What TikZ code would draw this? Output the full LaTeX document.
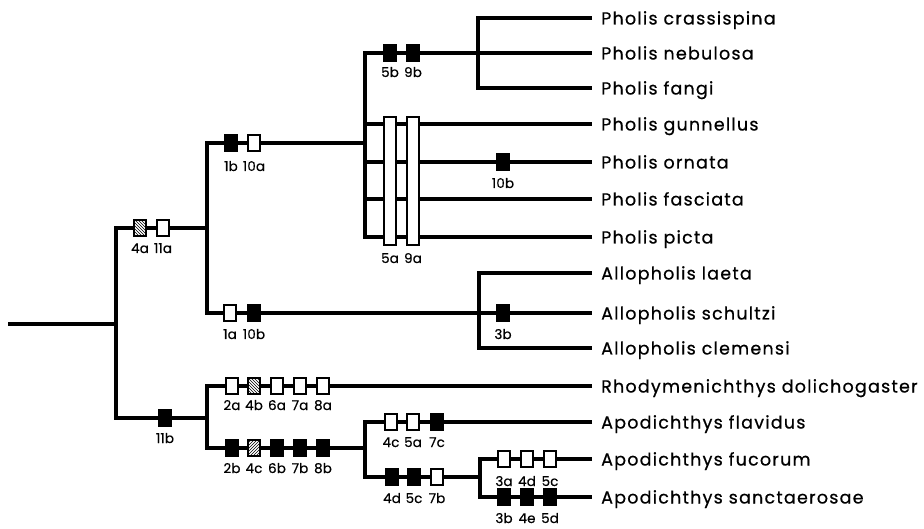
\documentclass[tikz,border=0pt]{standalone}
\usepackage{fontspec}
\setmainfont{Poppins}
\newfontfamily\spfont[LetterSpace=7,FakeBold=0.6]{Poppins}
\newfontfamily\lbfont[LetterSpace=1,FakeBold=0.4]{Poppins}
\usetikzlibrary{patterns}
\newcommand\mk[6]{%
  \node[#4] (#1) at (#2,#3) {};
  \node[lbl] (#1l) at (#2,#3+#6) {#5};}
\begin{document}
\begin{tikzpicture}[x=1pt,y=-1pt,
  br/.style={line width=3.2pt,line join=miter},
  mkw/.style={draw,fill=white,line width=1.8pt,minimum width=12pt,minimum height=15.5pt,inner sep=0pt},
  mkb/.style={mkw,fill=black},
  mkh/.style={mkw,postaction={pattern=north west lines}},
  mkf/.style={mkw,postaction={pattern=north east lines}},
  barw/.style={draw,fill=white,line width=1.8pt,minimum width=12pt,minimum height=128pt,inner sep=0pt},
  lbl/.style={font=\lbfont\fontsize{13.5}{13.5}\selectfont,inner sep=0pt,anchor=base},
  sp/.style={font=\spfont\fontsize{17.5}{20}\selectfont,inner sep=0pt,anchor=base west}]
\useasboundingbox (0,0) rectangle (924,529);
% tips
\coordinate (t1) at (592,18);
\coordinate (t2) at (592,53);
\coordinate (t3) at (592,88);
\coordinate (t4) at (592,124);
\coordinate (t5) at (592,162);
\coordinate (t6) at (592,199);
\coordinate (t7) at (592,237);
\coordinate (t8) at (592,273);
\coordinate (t9) at (592,313);
\coordinate (t10) at (592,348);
\coordinate (t11) at (592,386);
\coordinate (t12) at (592,422);
\coordinate (t13) at (592,459);
\coordinate (t14) at (592,497);
% internal junctions
\coordinate (r0) at (8,324);
\coordinate (r1) at (116,324);
\coordinate (u0) at (116,228);
\coordinate (u1) at (207,228);
\coordinate (l0) at (116,418);
\coordinate (l1) at (207,418);
\coordinate (p0) at (207,143);
\coordinate (p1) at (365,143);
\coordinate (a0) at (207,313);
\coordinate (ph1) at (365,53);
\coordinate (ph4) at (365,124);
\coordinate (ph5) at (365,162);
\coordinate (ph6) at (365,199);
\coordinate (ph7) at (365,237);
\coordinate (k1) at (478,18);
\coordinate (k3) at (478,88);
\coordinate (al1) at (479,273);
\coordinate (al3) at (479,348);
\coordinate (b1) at (207,386);
\coordinate (b2) at (207,448);
\coordinate (q0) at (365,448);
\coordinate (q1) at (365,422);
\coordinate (q2) at (365,477);
\coordinate (s0) at (480,477);
\coordinate (s1) at (480,459);
\coordinate (s2) at (480,497);
% branches
\draw[br] (r0) -- (r1);
\draw[br] (u1) -- (u0) -- (l0) -- (l1);
\draw[br] (p1) -- (p0) -- (a0) -- (t9);
\draw[br] (t7) -- (ph7) -- (ph1) -- (t2);
\draw[br] (ph4) -- (t4);
\draw[br] (ph5) -- (t5);
\draw[br] (ph6) -- (t6);
\draw[br] (t1) -- (k1) -- (k3) -- (t3);
\draw[br] (t8) -- (al1) -- (al3) -- (t10);
\draw[br] (t11) -- (b1) -- (b2) -- (q0);
\draw[br] (t12) -- (q1) -- (q2) -- (s0);
\draw[br] (t13) -- (s1) -- (s2) -- (t14);
% bars
\node[barw] (bar5a) at (390,181) {};
\node[barw] (bar9a) at (413,181) {};
\node[lbl] (bar5al) at (390,263) {5a};
\node[lbl] (bar9al) at (413,263) {9a};
% markers
\mk{m4a}{140}{228}{mkh}{4a}{25}
\mk{m11a}{163}{228}{mkw}{11a}{25}
\mk{m1b}{231}{143}{mkb}{1b}{28}
\mk{m10a}{254}{143}{mkw}{10a}{28}
\mk{m5b}{390}{53}{mkb}{5b}{24}
\mk{m9b}{413}{53}{mkb}{9b}{24}
\mk{m10bo}{503}{162}{mkb}{10b}{26}
\mk{m1a}{230}{313}{mkw}{1a}{26}
\mk{m10b}{254}{313}{mkb}{10b}{26}
\mk{m3b}{503}{313}{mkb}{3b}{26}
\mk{m11b}{165}{418}{mkb}{11b}{25}
\mk{m2a}{232}{386}{mkw}{2a}{24}
\mk{m4b}{254}{386}{mkh}{4b}{24}
\mk{m6a}{277}{386}{mkw}{6a}{24}
\mk{m7a}{300}{386}{mkw}{7a}{24}
\mk{m8a}{323}{386}{mkw}{8a}{24}
\mk{m2b}{232}{448}{mkb}{2b}{25}
\mk{m4c}{254}{448}{mkf}{4c}{25}
\mk{m6b}{277}{448}{mkb}{6b}{25}
\mk{m7b}{300}{448}{mkb}{7b}{25}
\mk{m8b}{323}{448}{mkb}{8b}{25}
\mk{m4cf}{391}{422}{mkw}{4c}{25}
\mk{m5af}{413}{422}{mkw}{5a}{25}
\mk{m7c}{437}{422}{mkb}{7c}{25}
\mk{m4d}{392}{477}{mkb}{4d}{26}
\mk{m5c}{414}{477}{mkb}{5c}{26}
\mk{m7bb}{437}{477}{mkw}{7b}{26}
\mk{m3a}{504}{459}{mkw}{3a}{27}
\mk{m4dd}{527}{459}{mkw}{4d}{27}
\mk{m5cc}{550}{459}{mkw}{5c}{27}
\mk{m3bb}{504}{497}{mkb}{3b}{26}
\mk{m4e}{527}{497}{mkb}{4e}{26}
\mk{m5d}{550}{497}{mkb}{5d}{26}
% species names
\node[sp] (n1) at (601,24.5) {Pholis crassispina};
\node[sp] (n2) at (601,59.5) {Pholis nebulosa};
\node[sp] (n3) at (601,94.5) {Pholis fangi};
\node[sp] (n4) at (601,130.5) {Pholis gunnellus};
\node[sp] (n5) at (601,168.5) {Pholis ornata};
\node[sp] (n6) at (601,205.5) {Pholis fasciata};
\node[sp] (n7) at (601,243.5) {Pholis picta};
\node[sp] (n8) at (601,279.5) {Allopholis laeta};
\node[sp] (n9) at (601,319.5) {Allopholis schultzi};
\node[sp] (n10) at (601,354.5) {Allopholis clemensi};
\node[sp] (n11) at (601,392.5) {Rhodymenichthys dolichogaster};
\node[sp] (n12) at (601,428.5) {Apodichthys flavidus};
\node[sp] (n13) at (601,465.5) {Apodichthys fucorum};
\node[sp] (n14) at (601,503.5) {Apodichthys sanctaerosae};
\end{tikzpicture}
\end{document}
